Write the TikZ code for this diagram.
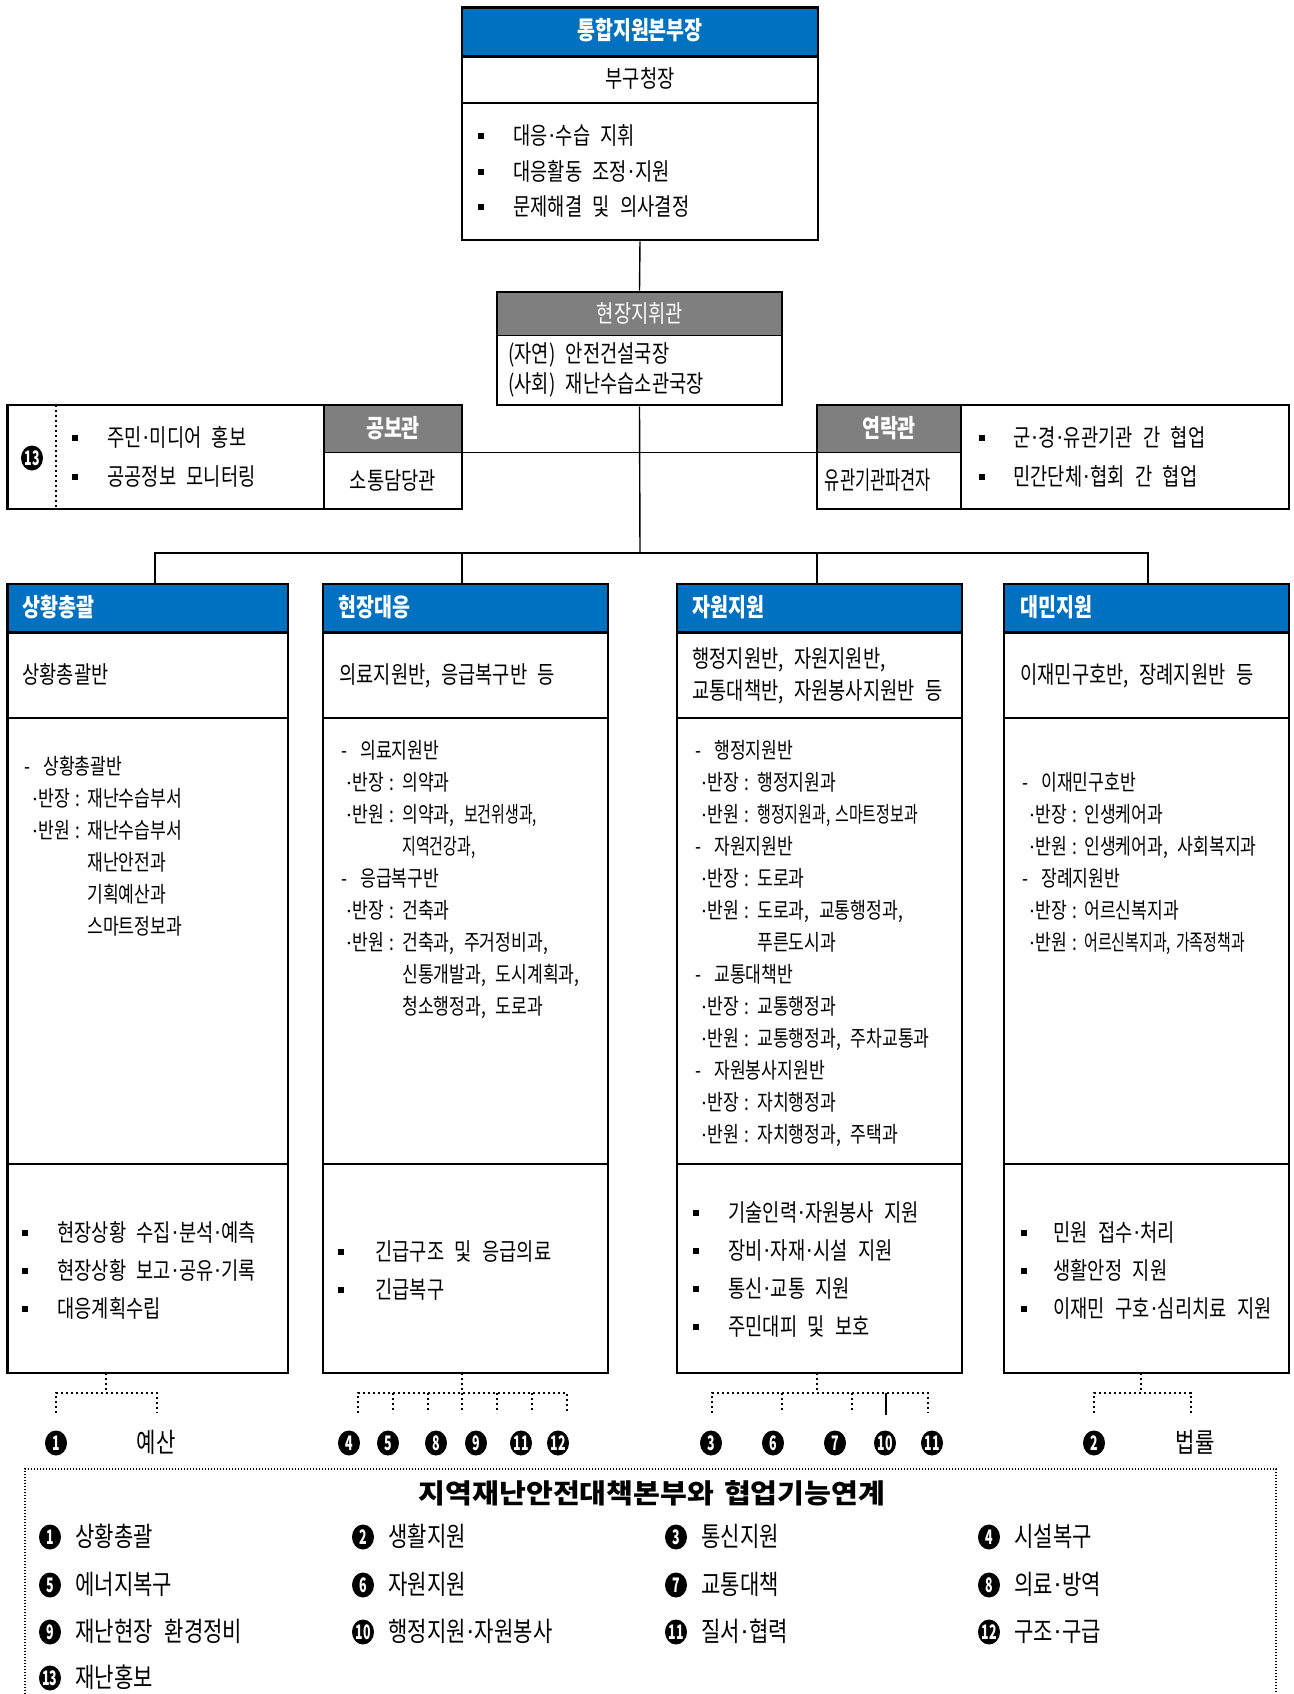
\documentclass[tikz,border=0pt]{standalone}
\usepackage{fontspec}
\setmainfont{Noto Sans CJK KR}[FakeStretch=0.78,WordSpace=2.5]
\newfontfamily\narrowfont{Noto Sans CJK KR}[FakeStretch=0.62]
\newfontfamily\liaisonfont{Noto Sans CJK KR}[FakeStretch=0.66]
\newfontfamily\sqfont{Noto Sans CJK KR}[FakeStretch=0.68,WordSpace=1.5]
\newfontfamily\widefont{Noto Sans CJK KR}[FakeStretch=1.08,WordSpace=1.5]
\newfontfamily\dotfont{Liberation Sans}
\newcommand\md{{\dotfont\raisebox{0.07em}{·}}}
\usetikzlibrary{fit,shapes.geometric}
\definecolor{hblue}{RGB}{0,112,192}
\definecolor{hgray}{RGB}{127,127,127}
\newcommand\bul[2]{\fill[black] ({#1-2.6},{#2-3.2}) rectangle ({#1+2.6},{#2+3.2});}
\newcommand\dashrow[4]{\node[sm,anchor=west] (#1a) at (#2,#3) {-};\node[sm,anchor=west] (#1b) at ({#2+19},#3) {#4};}
\newcommand\rolerow[6]{\node[sm,anchor=west] (#1a) at (#2,#4) {\md{}#5\kern2.5pt:};\node[sm,anchor=west] (#1b) at (#3,#4) {#6};}
\newcommand\controw[4]{\node[sm,anchor=west] (#1) at (#2,#3) {#4};}
\newcommand\bulrow[5]{\bul{#2}{#4}\node[tx,anchor=west] (#1) at (#3,#4) {#5};}
\newcommand\lgitem[6]{\node[num] (#1n) at (#2,#4) {#5};\node[lg,anchor=west] (#1t) at (#3,#4) {#6};}
\begin{document}
\begin{tikzpicture}[x=0.5pt,y=-0.5pt,
  outer/.style={draw, line width=1.3pt, inner sep=0pt},
  hfill/.style={inner sep=0pt, fill=hblue},
  gfill/.style={inner sep=0pt, fill=hgray},
  inln/.style={line width=0.6pt},
  bdln/.style={line width=1.3pt},
  conn/.style={line width=0.7pt},
  dotc/.style={line width=0.8pt, dash pattern=on 1.2pt off 1.3pt},
  tx/.style={inner sep=0pt, text height=9.6pt, text depth=1.2pt, font=\fontsize{12}{14}\selectfont},
  sm/.style={inner sep=0pt, text height=8.8pt, text depth=1.1pt, font=\fontsize{11}{13}\selectfont},
  hd/.style={inner sep=0pt, text height=10pt, text depth=1.2pt, text=white, font=\bfseries\fontsize{12.5}{14}\selectfont},
  lg/.style={inner sep=0pt, text height=10.8pt, text depth=1.3pt, font=\fontsize{13.5}{15}\selectfont},
  num/.style={ellipse, fill=black, inner sep=0pt, minimum width=11pt, minimum height=12.5pt, text=white, font=\narrowfont\bfseries\fontsize{10}{10}\selectfont},
]
\path[fill=white, use as bounding box] (0,0) rectangle (1294,1694);

% ---------- top box
\node[hfill, fit={(462,7.5)(818,56)}] (topH) {};
\draw[inln] (462,103) -- (818,103);
\draw[bdln] (topH.south west) -- (topH.south east);
\node[outer, fit={(462,7.5)(818,240)}] (top) {};
\node[hd] (topT) at (640,31) {통합지원본부장};
\node[tx] (topS) at (640,79) {부구청장};
\bulrow{topB1}{481}{513}{136}{대응\md{}수습 지휘}
\bulrow{topB2}{481}{513}{172}{대응활동 조정\md{}지원}
\bulrow{topB3}{481}{513}{207}{문제해결 및 의사결정}

% ---------- field commander
\node[gfill, fit={(497,292)(782,335)}] (cmdH) {};
\draw[inln] (cmdH.south west) -- (cmdH.south east);
\node[outer, fit={(497,292)(782,405)}] (cmd) {};
\node[tx, text=white] (cmdT) at (640,314) {현장지휘관};
\node[tx, anchor=west] (cmdA) at (508,354) {(자연) 안전건설국장};
\node[tx, anchor=west] (cmdB) at (508,384) {(사회) 재난수습소관국장};

% ---------- PR group
\node[gfill, fit={(324,405)(462,452)}] (prH) {};
\draw[inln] (prH.south west) -- (prH.south east);
\draw[bdln] (324,405) -- (324,509);
\draw[dotc] (56,405) -- (56,509);
\node[outer, fit={(7.5,405)(462,509)}] (prG) {};
\node[num] (m13a) at (32,458) {13};
\bulrow{prB1}{75}{107}{438}{주민\md{}미디어 홍보}
\bulrow{prB2}{75}{107}{477}{공공정보 모니터링}
\node[hd] (prT) at (393,429) {공보관};
\node[tx] (prS) at (393,481) {소통담당관};

% ---------- liaison group
\node[gfill, fit={(817,405)(961,452)}] (liH) {};
\draw[inln] (liH.south west) -- (liH.south east);
\draw[bdln] (961,405) -- (961,509);
\node[outer, fit={(817,405)(1289,509)}] (liG) {};
\node[hd] (liT) at (889,429) {연락관};
\node[tx, font=\liaisonfont\fontsize{12.5}{14}\selectfont] (liS) at (878,481) {유관기관파견자};
\bulrow{liB1}{982}{1013}{438}{군\md{}경\md{}유관기관 간 협업}
\bulrow{liB2}{982}{1013}{477}{민간단체\md{}협회 간 협업}

% ---------- columns
\foreach \n/\L/\R in {1/7.5/288, 2/323/608, 3/677/962, 4/1004/1289}{
  \node[hfill, fit={(\L,584)(\R,632)}] (c\n H) {};
  \draw[bdln] (c\n H.south west) -- (c\n H.south east);
  \draw[inln] (\L,718) -- (\R,718);
  \draw[inln] (\L,1164) -- (\R,1164);
  \node[outer, fit={(\L,584)(\R,1373)}] (c\n) {};
}

% ---------- connectors
\coordinate (busY) at (640,553);
\coordinate (d1) at (155,584);
\coordinate (d2) at (462,584);
\coordinate (d3) at (817,584);
\coordinate (d4) at (1148,584);
\draw[conn] (top.south) -- (cmd.north);
\draw[conn] (cmd.south) -- (busY);
\draw[conn] (prH.south east) -- (liH.south west);
\draw[conn] (d1) |- (busY) -| (d4);
\draw[conn] (d2 |- busY) -- (d2);
\draw[conn] (d3 |- busY) -- (d3);

% ---------- column headers and row 2
\node[hd, anchor=west] (c1T) at (22,608) {상황총괄};
\node[hd, anchor=west] (c2T) at (338,608) {현장대응};
\node[hd, anchor=west] (c3T) at (692,608) {자원지원};
\node[hd, anchor=west] (c4T) at (1020,608) {대민지원};
\node[tx, anchor=west] (c1S) at (22,675) {상황총괄반};
\node[tx, anchor=west] (c2S) at (339,675) {의료지원반, 응급복구반 등};
\node[tx, anchor=west] (c3Sa) at (692,659) {행정지원반, 자원지원반,};
\node[tx, anchor=west] (c3Sb) at (692,691) {교통대책반, 자원봉사지원반 등};
\node[tx, anchor=west] (c4S) at (1020,675) {이재민구호반, 장례지원반 등};

% ---------- detail rows
\dashrow{c1r0}{24}{767}{상황총괄반}
\rolerow{c1r1}{31}{87}{799}{반장}{재난수습부서}
\rolerow{c1r2}{31}{87}{831}{반원}{재난수습부서}
\controw{c1r3}{87}{863}{재난안전과}
\controw{c1r4}{87}{895}{기획예산과}
\controw{c1r5}{87}{927}{스마트정보과}

\dashrow{c2r0}{341}{751}{의료지원반}
\rolerow{c2r1}{345}{402}{783}{반장}{의약과}
\rolerow{c2r2}{345}{402}{815}{반원}{의약과, {\sqfont 보건위생과,}}
\controw{c2r3}{402}{847}{{\sqfont 지역건강과,}}
\dashrow{c2r4}{341}{879}{응급복구반}
\rolerow{c2r5}{345}{402}{911}{반장}{건축과}
\rolerow{c2r6}{345}{402}{943}{반원}{건축과, 주거정비과,}
\controw{c2r7}{402}{975}{신통개발과, 도시계획과,}
\controw{c2r8}{402}{1007}{청소행정과, 도로과}

\dashrow{c3r0}{695}{751}{행정지원반}
\rolerow{c3r1}{700}{757}{783}{반장}{행정지원과}
\rolerow{c3r2}{700}{757}{815}{반원}{{\sqfont 행정지원과, 스마트정보과}}
\dashrow{c3r3}{695}{847}{자원지원반}
\rolerow{c3r4}{700}{757}{879}{반장}{도로과}
\rolerow{c3r5}{700}{757}{911}{반원}{도로과, 교통행정과,}
\controw{c3r6}{757}{943}{푸른도시과}
\dashrow{c3r7}{695}{975}{교통대책반}
\rolerow{c3r8}{700}{757}{1007}{반장}{교통행정과}
\rolerow{c3r9}{700}{757}{1039}{반원}{교통행정과, 주차교통과}
\dashrow{c3r10}{695}{1071}{자원봉사지원반}
\rolerow{c3r11}{700}{757}{1103}{반장}{자치행정과}
\rolerow{c3r12}{700}{757}{1135}{반원}{자치행정과, 주택과}

\dashrow{c4r0}{1022}{783}{이재민구호반}
\rolerow{c4r1}{1028}{1084}{815}{반장}{인생케어과}
\rolerow{c4r2}{1028}{1084}{847}{반원}{인생케어과, 사회복지과}
\dashrow{c4r3}{1022}{879}{장례지원반}
\rolerow{c4r4}{1028}{1084}{911}{반장}{어르신복지과}
\rolerow{c4r5}{1028}{1084}{943}{반원}{{\sqfont 어르신복지과, 가족정책과}}

% ---------- bottom bullets
\bulrow{c1b1}{25}{57}{1233}{현장상황 수집\md{}분석\md{}예측}
\bulrow{c1b2}{25}{57}{1271}{현장상황 보고\md{}공유\md{}기록}
\bulrow{c1b3}{25}{57}{1309}{대응계획수립}
\bulrow{c2b1}{341}{375}{1252}{긴급구조 및 응급의료}
\bulrow{c2b2}{341}{375}{1290}{긴급복구}
\bulrow{c3b1}{696}{728}{1213}{기술인력\md{}자원봉사 지원}
\bulrow{c3b2}{696}{728}{1251}{장비\md{}자재\md{}시설 지원}
\bulrow{c3b3}{696}{728}{1289}{통신\md{}교통 지원}
\bulrow{c3b4}{696}{728}{1327}{주민대피 및 보호}
\bulrow{c4b1}{1024}{1053}{1233}{민원 접수\md{}처리}
\bulrow{c4b2}{1024}{1053}{1271}{생활안정 지원}
\bulrow{c4b3}{1024}{1053}{1309}{이재민 구호\md{}심리치료 지원}

% ---------- dotted links under columns
\draw[dotc] (106,1373) -- (106,1393);
\draw[dotc] (56,1413) -- (56,1393) -- (157,1393) -- (157,1413);
\draw[dotc] (462,1373) -- (462,1413);
\draw[dotc] (358,1413) -- (358,1393) -- (567,1393) -- (567,1413);
\foreach \x in {393,428,497,532} \draw[dotc] (\x,1393) -- (\x,1413);
\draw[dotc] (817,1373) -- (817,1393);
\draw[dotc] (712,1413) -- (712,1393) -- (928,1393) -- (928,1413);
\foreach \x in {782,852} \draw[dotc] (\x,1393) -- (\x,1413);
\draw[conn] (886,1393) -- (886,1415);
\draw[dotc] (1141,1373) -- (1141,1393);
\draw[dotc] (1094,1413) -- (1094,1393) -- (1191,1393) -- (1191,1413);

\node[num] (k1) at (56,1443) {1};
\node[lg] (k1t) at (156,1443) {예산};
\node[num] (k4) at (349,1443) {4};
\node[num] (k5) at (388,1443) {5};
\node[num] (k8) at (436,1443) {8};
\node[num] (k9) at (476,1443) {9};
\node[num] (k11) at (521,1443) {11};
\node[num] (k12) at (558,1443) {12};
\node[num] (k3) at (711,1443) {3};
\node[num] (k6) at (773,1443) {6};
\node[num] (k7) at (835,1443) {7};
\node[num] (k10) at (885,1443) {10};
\node[num] (k11b) at (932,1443) {11};
\node[num] (k2) at (1094,1443) {2};
\node[lg] (k2t) at (1195,1443) {법률};

% ---------- legend
\draw[line width=0.6pt, dash pattern=on 0.6pt off 0.9pt] (25,1694) -- (25,1469) -- (1276,1469) -- (1276,1694);
\node[inner sep=0pt, font=\widefont\bfseries\fontsize{13.5}{15}\selectfont] (lgT) at (652,1493) {지역재난안전대책본부와 협업기능연계};
\lgitem{L1}{50}{75}{1537}{1}{상황총괄}
\lgitem{L2}{363}{388}{1537}{2}{생활지원}
\lgitem{L3}{676}{701}{1537}{3}{통신지원}
\lgitem{L4}{989}{1014}{1537}{4}{시설복구}
\lgitem{L5}{50}{75}{1585}{5}{에너지복구}
\lgitem{L6}{363}{388}{1585}{6}{자원지원}
\lgitem{L7}{676}{701}{1585}{7}{교통대책}
\lgitem{L8}{989}{1014}{1585}{8}{의료\md{}방역}
\lgitem{L9}{50}{75}{1632}{9}{재난현장 환경정비}
\lgitem{L10}{363}{388}{1632}{10}{행정지원\md{}자원봉사}
\lgitem{L11}{676}{701}{1632}{11}{질서\md{}협력}
\lgitem{L12}{989}{1014}{1632}{12}{구조\md{}구급}
\lgitem{L13}{50}{75}{1678}{13}{재난홍보}
\end{tikzpicture}
\end{document}
